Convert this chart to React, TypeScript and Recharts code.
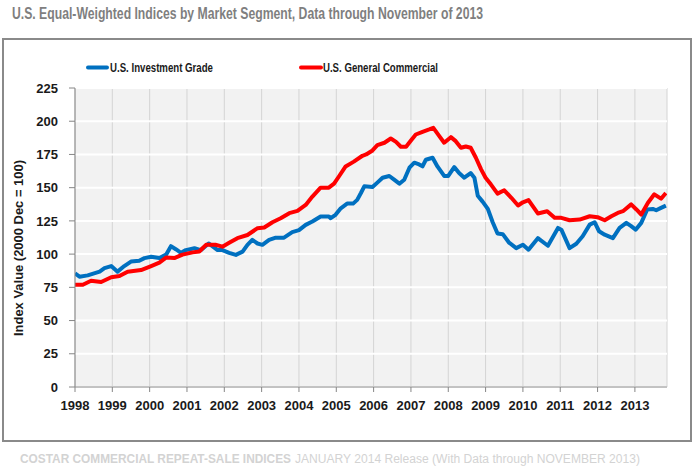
import { LineChart, Line, XAxis, YAxis, CartesianGrid } from 'recharts'

const years = [1998, 1999, 2000, 2001, 2002, 2003, 2004, 2005, 2006, 2007, 2008, 2009, 2010, 2011, 2012, 2013]
const valueTicks = [0, 25, 50, 75, 100, 125, 150, 175, 200, 225]

// U.S. Investment Grade (blue)
const igTimes = [
    1998.0, 1998.12, 1998.34, 1998.66, 1998.79, 1998.97, 1999.14, 1999.32, 1999.5, 1999.72, 1999.86,
    2000.04, 2000.26, 2000.44, 2000.57, 2000.71, 2000.84, 2000.97, 2001.2, 2001.37, 2001.58, 2001.82,
    2001.95, 2002.13, 2002.31, 2002.49, 2002.62, 2002.75, 2002.89, 2003.02, 2003.2, 2003.38, 2003.6,
    2003.82, 2004.0, 2004.18, 2004.36, 2004.58, 2004.8, 2004.85, 2004.98, 2005.12, 2005.29, 2005.45,
    2005.56, 2005.66, 2005.75, 2005.97, 2006.1, 2006.24, 2006.42, 2006.55, 2006.69, 2006.82, 2006.96,
    2007.09, 2007.22, 2007.31, 2007.4, 2007.58, 2007.71, 2007.89, 2008.0, 2008.16, 2008.29, 2008.43,
    2008.6, 2008.7, 2008.79, 2008.92, 2009.06, 2009.19, 2009.32, 2009.46, 2009.63, 2009.82, 2010.0,
    2010.15, 2010.4, 2010.67, 2010.94, 2011.03, 2011.25, 2011.43, 2011.6, 2011.79, 2011.92, 2012.04,
    2012.19, 2012.41, 2012.59, 2012.77, 2012.9, 2013.02, 2013.17, 2013.33, 2013.48, 2013.57, 2013.7,
    2013.83
]
const igValues = [
    85.5, 83, 84, 86.8, 89.4, 91, 86.8, 91, 94.4, 95, 97,
    98, 97, 99.6, 106, 103.5, 101, 103, 104.4, 103, 108, 103,
    103, 101, 99.4, 101.9, 107, 110.7, 108, 107, 110.7, 112.4, 112.4,
    116.5, 118, 122, 124.5, 128.3, 128.3, 127, 129.6, 134.5, 138, 138,
    140.8, 146, 151, 150.5, 153.8, 157.5, 158.8, 156, 153, 156, 165,
    168.8, 167.5, 166, 171, 172.5, 166, 158.8, 158.8, 165.5, 161, 157.5,
    161, 157.5, 144, 139.5, 134, 124, 115.5, 115, 108.6, 104.5, 107,
    103.3, 112, 106.3, 119.7, 118.4, 104.5, 107.8, 113.4, 122.2, 124, 117.2,
    114.6, 112, 119.7, 123.5, 121, 118.4, 123.5, 133.6, 134, 133, 134.8,
    136.5
]

// U.S. General Commercial (red)
const gcTimes = [
    1998.0, 1998.21, 1998.43, 1998.7, 1998.97, 1999.19, 1999.41, 1999.77, 2000.04, 2000.26, 2000.44,
    2000.66, 2000.88, 2001.15, 2001.33, 2001.51, 2001.76, 2001.95, 2002.13, 2002.35, 2002.62, 2002.89,
    2003.07, 2003.29, 2003.51, 2003.74, 2003.96, 2004.18, 2004.36, 2004.58, 2004.8, 2004.94, 2005.07,
    2005.25, 2005.47, 2005.7, 2005.8, 2005.97, 2006.1, 2006.29, 2006.46, 2006.6, 2006.73, 2006.87,
    2007.0, 2007.13, 2007.31, 2007.49, 2007.6, 2007.76, 2007.89, 2008.07, 2008.2, 2008.34, 2008.47,
    2008.6, 2008.74, 2008.88, 2009.0, 2009.14, 2009.32, 2009.5, 2009.69, 2009.87, 2010.0, 2010.15,
    2010.4, 2010.65, 2010.85, 2011.03, 2011.25, 2011.52, 2011.79, 2012.0, 2012.19, 2012.37, 2012.54,
    2012.68, 2012.9, 2013.04, 2013.17, 2013.35, 2013.52, 2013.7, 2013.83
]
const gcValues = [
    77, 77, 80, 79, 82.6, 83.5, 86.8, 88, 91, 93.6, 97.4,
    97, 99.6, 101.3, 102, 107, 107, 105.6, 108.5, 112, 114.4, 119.5,
    120, 124, 127, 130.8, 132.5, 137, 143.3, 150, 150, 153, 158.4,
    166, 169.6, 174, 175, 178, 182, 183.8, 187, 184.5, 180.8, 180.8,
    185.5, 190, 192, 193.8, 195, 188.8, 183.8, 188, 185, 180, 181,
    180, 172.5, 163.8, 157.5, 152.5, 145.5, 148, 142.4, 136.6, 139, 140.7,
    130.6, 132.3, 127.3, 127.3, 125.5, 126, 128.5, 127.8, 125.5, 128.5, 131,
    132.3, 137.4, 133.6, 129.8, 138.6, 145, 141.7, 146
]

const igData = igTimes.map((t, i) => ({ t, v: igValues[i] }))
const gcData = gcTimes.map((t, i) => ({ t, v: gcValues[i] }))

const FONT = '"Liberation Sans", Arial, sans-serif'
const BLUE = '#0070C0'
const RED = '#FF0000'

const tickStyle = { fill: '#1a1a1a', fontSize: 13, fontWeight: 700, fontFamily: FONT }

export default function App() {
    return (
        <div style={{ position: 'absolute', left: 0, top: 0, width: 694, height: 469, background: '#fff' }}>
            <svg width={694} height={469} style={{ position: 'absolute', left: 0, top: 0 }}>
                <rect x={3} y={39} width={688} height={402} fill="none" stroke="#8a8a8a" strokeWidth={2} />
                <text
                    x={12}
                    y={19}
                    fontFamily={FONT}
                    fontWeight={700}
                    fontSize={16}
                    fill="#7f7f7f"
                    textLength={471}
                    lengthAdjust="spacingAndGlyphs"
                >
                    U.S. Equal-Weighted Indices by Market Segment, Data through November of 2013
                </text>
                <line x1={88} y1={67.5} x2={107} y2={67.5} stroke={BLUE} strokeWidth={4} strokeLinecap="round" />
                <text x={110} y={72} fontFamily={FONT} fontWeight={700} fontSize={13} fill="#1a1a1a"
                    textLength={103} lengthAdjust="spacingAndGlyphs">
                    U.S. Investment Grade
                </text>
                <line x1={301} y1={67.5} x2={321} y2={67.5} stroke={RED} strokeWidth={4} strokeLinecap="round" />
                <text x={323} y={72} fontFamily={FONT} fontWeight={700} fontSize={13} fill="#1a1a1a"
                    textLength={115} lengthAdjust="spacingAndGlyphs">
                    U.S. General Commercial
                </text>
                <text
                    x={23}
                    y={248}
                    transform="rotate(-90 23 248)"
                    textAnchor="middle"
                    fontFamily={FONT}
                    fontWeight={700}
                    fontSize={12}
                    fill="#1a1a1a"
                    textLength={176}
                    lengthAdjust="spacingAndGlyphs"
                >
                    Index Value (2000 Dec = 100)
                </text>
                <text x={20} y={463} fontFamily={FONT} fontWeight={700} fontSize={12} fill="#d3d3d3"
                    textLength={271} lengthAdjust="spacingAndGlyphs">
                    COSTAR COMMERCIAL REPEAT-SALE INDICES
                </text>
                <text x={295} y={463} fontFamily={FONT} fontSize={12} fill="#d3d3d3"
                    textLength={345} lengthAdjust="spacingAndGlyphs">
                    JANUARY 2014 Release (With Data through NOVEMBER 2013)
                </text>
            </svg>
            <div style={{ position: 'absolute', left: 0, top: 0 }}>
                <LineChart width={694} height={469} margin={{ top: 88, right: 27, left: 15, bottom: 52 }}>
                    <CartesianGrid horizontal={false} stroke="#d4d4d4" fill="#f2f2f2" />
                    <CartesianGrid vertical={false} stroke="#ffffff" strokeWidth={2} />
                    <XAxis
                        dataKey="t"
                        type="number"
                        domain={[1998, 2013.86]}
                        ticks={years}
                        allowDataOverflow
                        height={30}
                        interval={0}
                        stroke="#868686"
                        tickSize={5}
                        tickMargin={9}
                        tick={tickStyle}
                    />
                    <YAxis
                        type="number"
                        domain={[0, 225]}
                        ticks={valueTicks}
                        width={60}
                        interval={0}
                        stroke="#868686"
                        tickSize={6}
                        tickMargin={11}
                        tick={tickStyle}
                    />
                    <Line
                        data={igData}
                        dataKey="v"
                        type="linear"
                        stroke={BLUE}
                        strokeWidth={4}
                        strokeLinejoin="round"
                        dot={false}
                        isAnimationActive={false}
                    />
                    <Line
                        data={gcData}
                        dataKey="v"
                        type="linear"
                        stroke={RED}
                        strokeWidth={4}
                        strokeLinejoin="round"
                        dot={false}
                        isAnimationActive={false}
                    />
                </LineChart>
            </div>
        </div>
    )
}
